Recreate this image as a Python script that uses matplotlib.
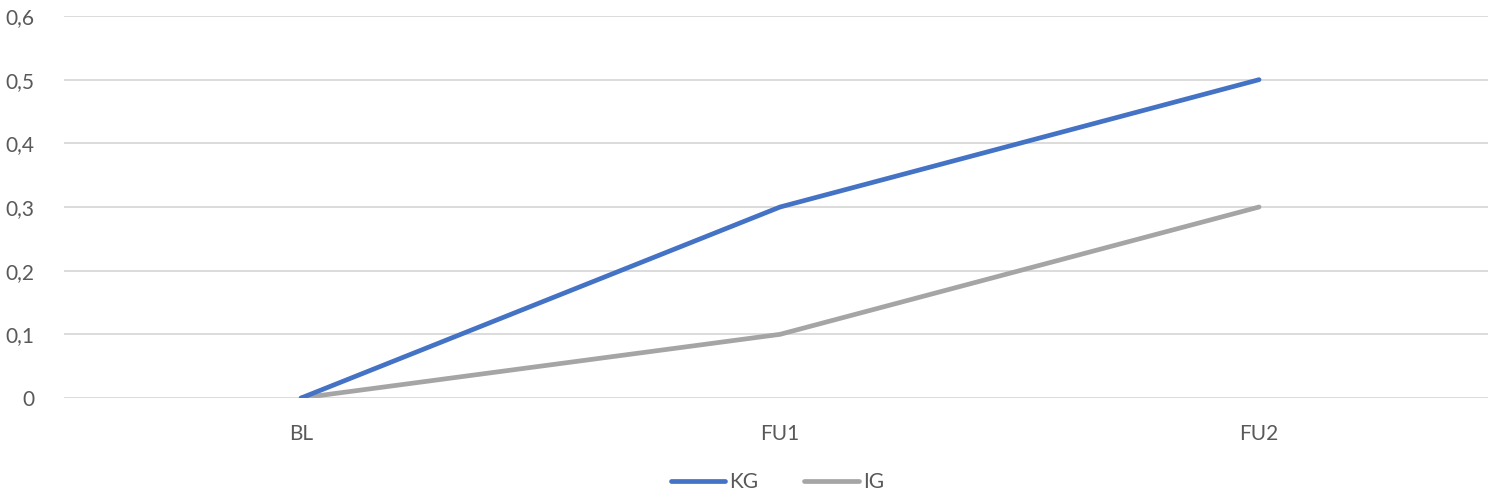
import matplotlib
matplotlib.use("Agg")
import matplotlib.pyplot as plt
from matplotlib.ticker import FuncFormatter

categories = ["BL", "FU1", "FU2"]
kg_values = [0.0, 0.3, 0.5]
ig_values = [0.0, 0.1, 0.3]
y_ticks = [0.0, 0.1, 0.2, 0.3, 0.4, 0.5, 0.6]

plt.rcParams["font.family"] = ["Lato", "DejaVu Sans"]

fig = plt.figure(figsize=(14.88, 4.96), dpi=100)
ax = fig.add_axes([64 / 1488, (496 - 398) / 496, 1 - 64 / 1488, (398 - 16) / 496])

x = list(range(len(categories)))
ax.plot(x, kg_values, color="#4472C4", lw=3.4, solid_capstyle="round", label="KG", zorder=3)
ax.plot(x, ig_values, color="#A5A5A5", lw=3.4, solid_capstyle="round", label="IG", zorder=2)

ax.set_xlim(-0.495, 2.478)
ax.set_ylim(0, 0.6)
ax.set_yticks(y_ticks)
ax.yaxis.set_major_formatter(FuncFormatter(lambda v, p: "0" if abs(v) < 1e-9 else f"{v:.1f}".replace(".", ",")))
ax.set_xticks(x)
ax.set_xticklabels(categories)

ax.grid(axis="y", color="#D9D9D9", lw=1.3)
ax.set_axisbelow(True)
for s in ax.spines.values():
    s.set_visible(False)
ax.tick_params(axis="both", length=0, labelsize=15, labelcolor="#595959")
ax.tick_params(axis="y", pad=21)
ax.tick_params(axis="x", pad=19)

fig.legend(loc="center", bbox_to_anchor=(0.5225, (496 - 482) / 496), ncol=2, frameon=False,
           fontsize=15, labelcolor="#595959", handlelength=2.6, handletextpad=0.2,
           columnspacing=2.2)

fig.savefig("out.png", dpi=100, facecolor="white")
